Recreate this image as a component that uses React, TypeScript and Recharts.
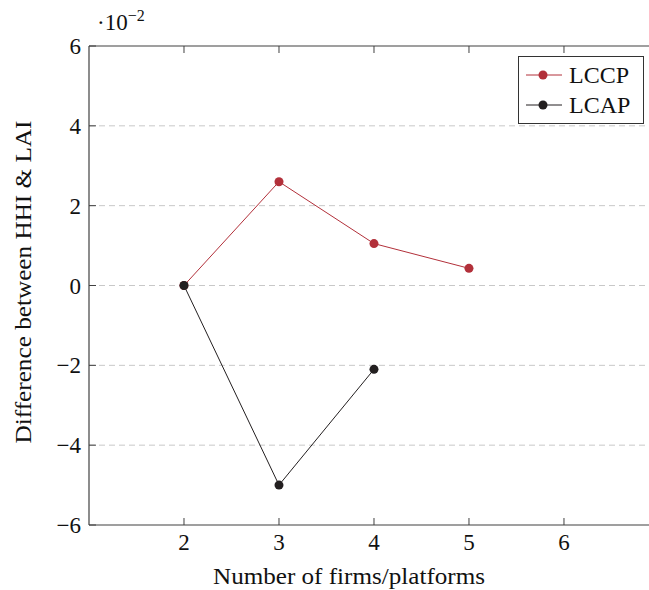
import React from "react";
import { LineChart, Line, XAxis, YAxis, CartesianGrid, Legend } from "recharts";

const xTicks = [2, 3, 4, 5, 6];
const yTicks = [-6, -4, -2, 0, 2, 4, 6];
const gridLines = [-4, -2, 0, 2, 4];

const lccpFirms = [2, 3, 4, 5];
const lccpDiff = [0, 2.6, 1.05, 0.43];
const lcapFirms = [2, 3, 4];
const lcapDiff = [0, -5.0, -2.1];

const lccp = lccpFirms.map((n, i) => ({ n, v: lccpDiff[i] }));
const lcap = lcapFirms.map((n, i) => ({ n, v: lcapDiff[i] }));

const RED = "#b2303a";
const BLACK = "#231f20";
const AXIS = "#404040";
const FONT = "'Liberation Serif', 'DejaVu Serif', serif";
const FS = 23;

const fmt = (v: number) => (v < 0 ? `\u2212${Math.abs(v)}` : `${v}`);

function BottomTick({ x, y, payload }: any) {
  return (
    <g>
      <line x1={x} x2={x} y1={y} y2={y - 7} stroke={AXIS} strokeWidth={1} />
      <text x={x} y={y + 25} textAnchor="middle" fontFamily={FONT} fontSize={FS} fill="#111">
        {fmt(payload.value)}
      </text>
    </g>
  );
}

function TopTick({ x, y }: any) {
  return <line x1={x} x2={x} y1={y} y2={y + 7} stroke={AXIS} strokeWidth={1} />;
}

function LeftTick({ x, y, payload }: any) {
  return (
    <g>
      <line x1={x} x2={x + 7} y1={y} y2={y} stroke={AXIS} strokeWidth={1} />
      <text x={x - 8} y={y + 8} textAnchor="end" fontFamily={FONT} fontSize={FS} fill="#111">
        {fmt(payload.value)}
      </text>
    </g>
  );
}

function LegendBox() {
  const rows = [
    { name: "LCCP", color: RED },
    { name: "LCAP", color: BLACK },
  ];
  return (
    <div
      style={{
        width: 126,
        boxSizing: "border-box",
        border: "1px solid #333",
        background: "#fff",
        padding: "3px 0 3px 7px",
        fontFamily: FONT,
        fontSize: 24,
        lineHeight: "30px",
        color: "#111",
      }}
    >
      {rows.map((r) => (
        <div key={r.name} style={{ display: "flex", alignItems: "center" }}>
          <svg width={38} height={12} style={{ marginRight: 5 }}>
            <line x1={0} x2={36} y1={6} y2={6} stroke={r.color} strokeWidth={1} />
            <circle cx={17} cy={6} r={4.5} fill={r.color} />
          </svg>
          <span>{r.name}</span>
        </div>
      ))}
    </div>
  );
}

export default function App() {
  return (
    <div style={{ position: "absolute", left: 0, top: 0, width: 649, height: 590, overflow: "hidden", background: "#fff" }}>
      <LineChart width={649} height={590} margin={{ top: 45, right: 0, bottom: 0, left: 0 }}>
        <CartesianGrid
          vertical={false}
          horizontalValues={gridLines}
          stroke="#c8c8c8"
          strokeDasharray="6 4"
        />
        <XAxis
          xAxisId="b"
          type="number"
          dataKey="n"
          domain={[1, 6.895]}
          ticks={xTicks}
          allowDataOverflow
          height={65}
          axisLine={{ stroke: AXIS, strokeWidth: 1.2 }}
          tickLine={false}
          tickSize={0}
          tickMargin={0}
          tick={<BottomTick />}
          label={{
            content: () => (
              <text x={349} y={584} textAnchor="middle" textLength={272} lengthAdjust="spacingAndGlyphs" fontFamily={FONT} fontSize={FS} fill="#111">
                Number of firms/platforms
              </text>
            ),
          }}
        />
        <XAxis
          xAxisId="t"
          orientation="top"
          type="number"
          dataKey="n"
          domain={[1, 6.895]}
          ticks={xTicks}
          allowDataOverflow
          height={1}
          axisLine={{ stroke: AXIS, strokeWidth: 1.2 }}
          tickLine={false}
          tickSize={0}
          tickMargin={0}
          tick={<TopTick />}
          label={{
            content: () => (
              <text x={97} y={30} fontFamily={FONT} fontSize={FS} fill="#111">
                {"\u00b710"}
                <tspan dy={-9} fontSize={16}>{"\u2212"}2</tspan>
              </text>
            ),
          }}
        />
        <YAxis
          type="number"
          dataKey="v"
          domain={[-6, 6]}
          ticks={yTicks}
          width={89}
          axisLine={{ stroke: AXIS, strokeWidth: 1.2 }}
          tickLine={false}
          tickSize={0}
          tickMargin={0}
          tick={<LeftTick />}
          label={{
            content: () => (
              <text
                transform="translate(31,282) rotate(-90)"
                textAnchor="middle"
                textLength={323}
                lengthAdjust="spacingAndGlyphs"
                fontFamily={FONT}
                fontSize={FS}
                fill="#111"
              >
                Difference between HHI &amp; LAI
              </text>
            ),
          }}
        />
        <Legend
          layout="vertical"
          align="center"
          verticalAlign="middle"
          wrapperStyle={{ left: 518, top: 56, width: "auto" }}
          content={() => <LegendBox />}
        />
        <Line
          xAxisId="b"
          data={lccp}
          dataKey="v"
          name="LCCP"
          stroke={RED}
          strokeWidth={1}
          dot={{ r: 4.5, fill: RED, stroke: RED, strokeWidth: 0 }}
          isAnimationActive={false}
        />
        <Line
          xAxisId="b"
          data={lcap}
          dataKey="v"
          name="LCAP"
          stroke={BLACK}
          strokeWidth={1}
          dot={{ r: 4.5, fill: BLACK, stroke: BLACK, strokeWidth: 0 }}
          isAnimationActive={false}
        />
      </LineChart>
    </div>
  );
}
